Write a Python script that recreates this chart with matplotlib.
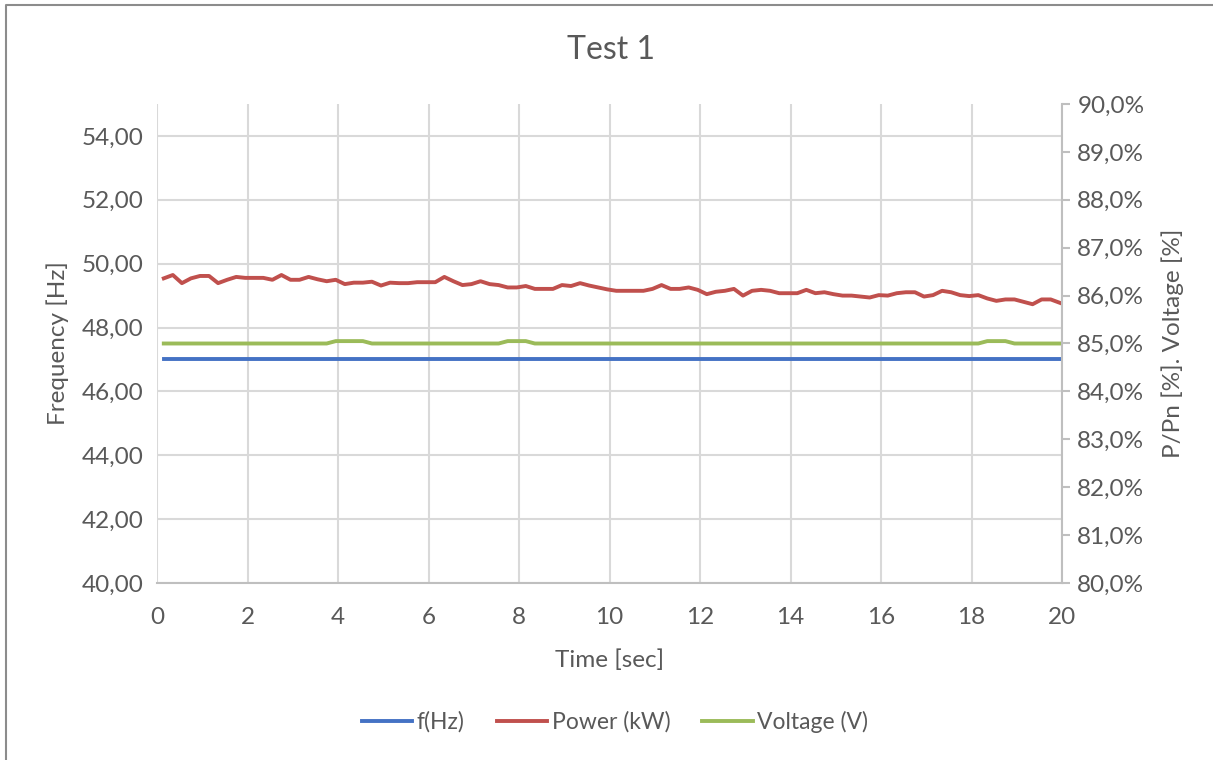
import matplotlib.pyplot as plt
import numpy as np
from matplotlib.lines import Line2D
from matplotlib.ticker import FuncFormatter

plt.rcParams['font.family'] = ['Lato', 'DejaVu Sans']

# Дані (кожні 0,2 с)
time = np.round(0.15 + 0.2 * np.arange(100), 2)

freq = [47.0] * 100

power = [86.36, 86.43, 86.26, 86.36, 86.41, 86.41, 86.26, 86.33, 86.39, 86.37,
         86.37, 86.37, 86.33, 86.43, 86.33, 86.33, 86.39, 86.34, 86.30, 86.33,
         86.24, 86.27, 86.27, 86.29, 86.21, 86.27, 86.26, 86.26, 86.28, 86.28,
         86.28, 86.39, 86.30, 86.22, 86.24, 86.30, 86.24, 86.22, 86.17, 86.17,
         86.20, 86.14, 86.14, 86.14, 86.22, 86.20, 86.26, 86.21, 86.17, 86.13,
         86.10, 86.10, 86.10, 86.10, 86.14, 86.22, 86.14, 86.14, 86.17, 86.12,
         86.03, 86.08, 86.10, 86.14, 86.00, 86.10, 86.12, 86.10, 86.05, 86.05,
         86.05, 86.12, 86.05, 86.07, 86.03, 86.00, 86.00, 85.98, 85.96, 86.01,
         86.00, 86.05, 86.07, 86.07, 85.98, 86.01, 86.10, 86.07, 86.01, 85.99,
         86.01, 85.94, 85.89, 85.92, 85.92, 85.87, 85.82, 85.92, 85.92, 85.85]

voltage = [85.0] * 100
for i in [19, 20, 21, 22, 38, 39, 40, 91, 92, 93]:
    voltage[i] = 85.05

freq_ticks = np.arange(40, 55, 2)
pct_ticks = np.arange(80, 91, 1)
time_ticks = np.arange(0, 21, 2)

txt = '#595959'
grid = '#D9D9D9'

fig = plt.figure(figsize=(12.13, 7.6), dpi=100)
ax = fig.add_axes([157 / 1213, 1 - 583 / 760, (1062 - 157) / 1213, (583 - 104) / 760])
ax2 = ax.twinx()

# рамка діаграми (видно лише верх і лівий край)
bx, by = 6 / 1213, 1 - 5 / 760
fig.lines.append(Line2D([bx, bx, 1], [0, by, by], transform=fig.transFigure,
                        color='#8C8C8C', linewidth=1.5))

l1, = ax.plot(time, freq, color='#4472C4', linewidth=2.8, label='f(Hz)')
l2, = ax2.plot(time, power, color='#C0504D', linewidth=2.8, label='Power (kW)')
l3, = ax2.plot(time, voltage, color='#9BBB59', linewidth=2.8, label='Voltage (V)')

ax.set_xlim(0, 20)
ax.set_ylim(40, 55)
ax2.set_ylim(80, 90)
ax.set_xticks(time_ticks)
ax.set_yticks(freq_ticks)
ax2.set_yticks(pct_ticks)
ax.yaxis.set_major_formatter(FuncFormatter(lambda v, p: f'{v:.2f}'.replace('.', ',')))
ax2.yaxis.set_major_formatter(FuncFormatter(lambda v, p: f'{v:.1f}%'.replace('.', ',')))

ax.grid(True, color=grid, linewidth=1.5)
ax.set_axisbelow(True)
for s in ['top', 'left', 'right']:
    ax.spines[s].set_visible(False)
for s in ['top', 'left', 'bottom']:
    ax2.spines[s].set_visible(False)
ax.spines['bottom'].set_color('#BFBFBF')
ax.spines['bottom'].set_linewidth(1.5)
ax2.spines['right'].set_color('#BFBFBF')
ax2.spines['right'].set_linewidth(1.5)

ax.tick_params(axis='x', length=0, labelsize=17.5, labelcolor=txt, pad=17)
ax.tick_params(axis='y', length=0, labelsize=17.5, labelcolor=txt, pad=10)
ax2.tick_params(axis='y', length=6, color='#BFBFBF', width=1.5, labelsize=17.5, labelcolor=txt, pad=5)

ax.set_xlabel('Time [sec]', fontsize=17.5, color=txt, labelpad=16)
ax.set_ylabel('Frequency [Hz]', fontsize=17.5, color=txt, labelpad=9)
ax2.set_ylabel('P/Pn [%]. Voltage [%]', fontsize=17.5, color=txt, labelpad=12)

fig.text(611 / 1213, 1 - 50 / 760, 'Test 1', ha='center', va='center', fontsize=23, color=txt)

fig.legend(handles=[l1, l2, l3], loc='center', bbox_to_anchor=(615 / 1213, 1 - 722 / 760),
           ncol=3, frameon=False, fontsize=16.5, labelcolor=txt, handlelength=2.2,
           handletextpad=0.2, columnspacing=1.4)

fig.savefig('out.png', dpi=100)
